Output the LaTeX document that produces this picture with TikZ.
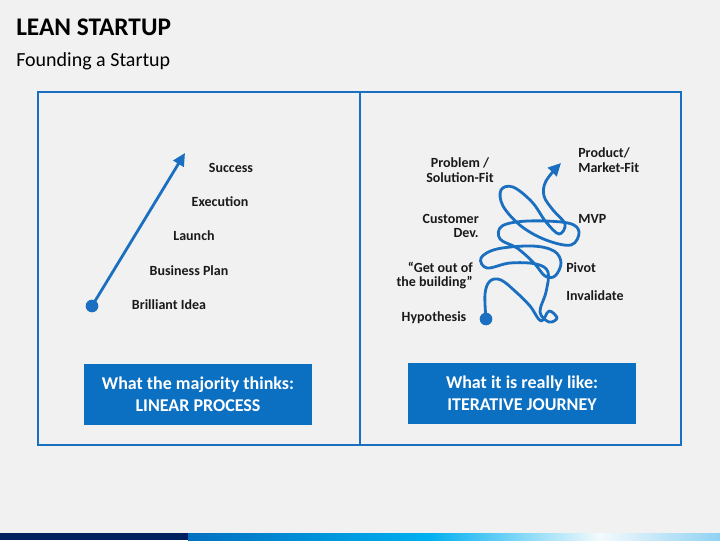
\documentclass[tikz,border=0pt]{standalone}
\usepackage{fontspec}
\setmainfont{Carlito}
\usetikzlibrary{arrows.meta}
\definecolor{bg}{HTML}{F1F1F1}
\definecolor{mblue}{HTML}{1A6FC0}
\definecolor{boxblue}{HTML}{0B6FC2}
\definecolor{navy}{HTML}{002060}
\definecolor{b1}{HTML}{0070C0}
\definecolor{b2}{HTML}{00B0F0}
\definecolor{b3}{HTML}{F4FAFD}
\definecolor{b4}{HTML}{8FD2F2}
\definecolor{txt}{HTML}{1A1A1A}
\begin{document}
\begin{tikzpicture}[x=0.75pt,y=-0.75pt,
  lbl/.style={font=\fontsize{10.5}{11}\selectfont\bfseries, text=txt, inner sep=0pt},
  panel/.style={draw=mblue, line width=1.5pt},
  bluebox/.style={fill=boxblue, draw=none, text=white, align=center,
    font=\fontsize{13.5}{16.5}\selectfont\bfseries, minimum width=171pt, minimum height=45.75pt, inner sep=0pt},
  path/.style={draw=mblue, line width=2.1pt, line cap=round, line join=round},
  tip/.style={-{Triangle[length=9.5pt,width=9pt]}},
  dotn/.style={circle, fill=mblue, inner sep=0pt, minimum size=9.5pt}]
\useasboundingbox (0,0) rectangle (720,540);
\fill[bg] (0,0) rectangle (720,540);
% title
\node[anchor=base west, inner sep=0pt, font=\fontsize{19}{22}\selectfont\bfseries, text=black] (title) at (16,35) {LEAN STARTUP};
\node[anchor=base west, inner sep=0pt, font=\fontsize{15}{18}\selectfont, text=black] (sub) at (16,66) {Founding a Startup};
% panels
\draw[panel] (38,92) rectangle (360,445);
\draw[panel] (360,92) rectangle (681,445);
% left side
\node[dotn] (idea) at (92,306) {};
\coordinate (succ) at (185,153);
\draw[path, tip] (idea.center) -- (succ);
\node[lbl] (l1) at (231,168) {Success};
\node[lbl] (l2) at (220,202) {Execution};
\node[lbl] (l3) at (194,236) {Launch};
\node[lbl] (l4) at (189,271) {Business Plan};
\node[lbl] (l5) at (169,305) {Brilliant Idea};
\node[bluebox] (lbox) at (198,394.5) {What the majority thinks:\\LINEAR PROCESS};
% right side
\node[dotn] (hyp) at (486,319) {};
\coordinate (pmf) at (561,163);
\draw[path, tip] plot[smooth, tension=0.6] coordinates {
 (486,319) (485,294) (490,281) (501,280) (516,292) (530,306) (541,321)
 (549,311) (557,318) (549,322) (540,312) (546,292) (548,272) (536,264)
 (510,263) (487,268) (481,258) (497,249) (532,246) (554,251) (561,263)
 (555,276) (545,276) (534,263) (517,248) (500,239) (502,226) (528,221)
 (568,223) (579,232) (571,245) (546,240) (521,226) (503,206) (501,190)
 (513,187) (532,202) (546,222) (559,234) (565,224) (553,210) (544,196)
 (546,181) (561,163)};
\node[lbl, align=center] (psf) at (460,170) {Problem /\\Solution-Fit};
\node[lbl, align=left, anchor=west] (pm) at (578,160) {Product/\\Market-Fit};
\node[lbl, align=right, anchor=east] (cd) at (479,226) {Customer\\Dev.};
\node[lbl, anchor=west] (mvp) at (578,219) {MVP};
\node[lbl, align=right, anchor=east] (gob) at (473,275.5) {“Get out of\\the building”};
\node[lbl, anchor=west] (piv) at (566,268) {Pivot};
\node[lbl, anchor=west] (inv) at (566,296) {Invalidate};
\node[lbl] (hy) at (434,318) {Hypothesis};
\node[bluebox] (rbox) at (522,393.5) {What it is really like:\\ITERATIVE JOURNEY};
% bottom bar
\fill[navy] (0,533) rectangle (188,540);
\shade[left color=b1, right color=b2] (188,533) rectangle (430,540);
\shade[left color=b2, right color=b3] (430,533) rectangle (600,540);
\shade[left color=b3, right color=b4] (600,533) rectangle (720,540);
\end{tikzpicture}
\end{document}
